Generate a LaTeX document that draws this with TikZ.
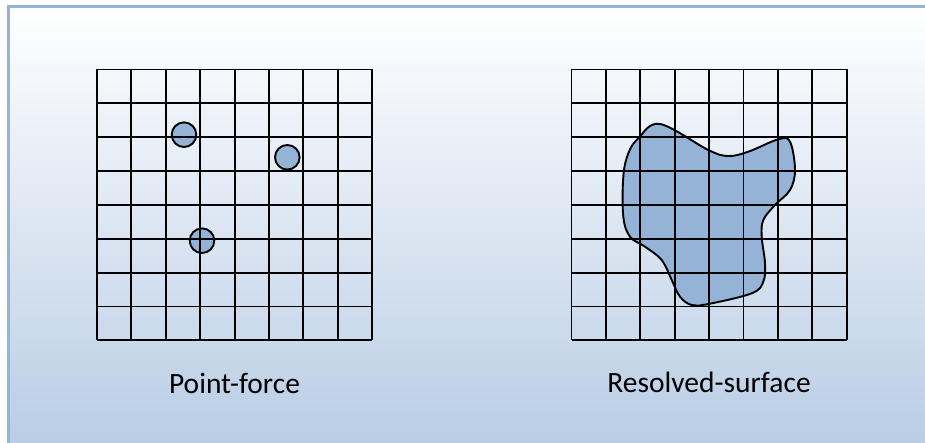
\documentclass[tikz,border=0pt]{standalone}
\usepackage{fontspec}
\setmainfont{Carlito}
\usepackage{xcolor}
\usetikzlibrary{positioning, calc}

\definecolor{panelblue}{RGB}{185,205,229}
\definecolor{frameblue}{RGB}{149,179,215}
\definecolor{shapeblue}{RGB}{149,179,215}

\begin{document}
\begin{tikzpicture}[
    x=1pt, y=-1pt,
    gridline/.style={draw=black, line width=1.9pt},
    forcedot/.style={fill=shapeblue},
    outline/.style={draw=black, line width=1.9pt},
    caption/.style={font=\fontsize{29.5}{35}\selectfont, anchor=base, inner sep=0pt},
]
\useasboundingbox (0,0) rectangle (925,443);
% background panel, running off the right and bottom edges
\shade[top color=white, bottom color=panelblue] (8,7) rectangle (925,443);
\draw[frameblue, line width=3pt] (8,443) -- (8,7) -- (925,7);

% left grid: point-force
\begin{scope}[shift={(97,69.5)}]
  \foreach \c in {(87,65.2), (190.3,87.8), (105,171.2)}
    \fill[forcedot] \c circle (12.3);
  \foreach \i in {0,...,8} {
    \draw[gridline] (\i*34.4,0) -- (\i*34.4,270.8);
    \draw[gridline] (0,\i*33.85) -- (275.2,\i*33.85);
  }
  \foreach \c in {(87,65.2), (190.3,87.8), (105,171.2)}
    \draw[outline] \c circle (12.3);
\end{scope}

% right grid: resolved surface
\def\blob{plot[smooth cycle, tension=0.6] coordinates {
  (638.3,138.3) (660,124) (708.3,150) (728.3,156) (748.3,151.7)
  (778.3,139.3) (790,141.7) (795,170) (790,190) (775,205)
  (763.3,220) (761.7,236.7) (765,263.3) (763.3,281.7) (751.7,293.3)
  (708.3,304) (691.7,305) (680,296.7) (671.7,280) (661.7,260)
  (645,246.7) (630,236.7) (623.3,216.7) (623.3,176.7) (628.3,153.3)}}
\fill[shapeblue] \blob;
\begin{scope}[shift={(571.5,69.5)}]
  \foreach \i in {0,...,8} {
    \draw[gridline] (\i*34.4,0) -- (\i*34.4,270.8);
    \draw[gridline] (0,\i*33.85) -- (275.2,\i*33.85);
  }
\end{scope}
\draw[outline] \blob;

\node[caption] (pointlbl) at (234.5,393) {Point-force};
\node[caption] (surflbl) at (709,392) {Resolved-surface};
\end{tikzpicture}
\end{document}
